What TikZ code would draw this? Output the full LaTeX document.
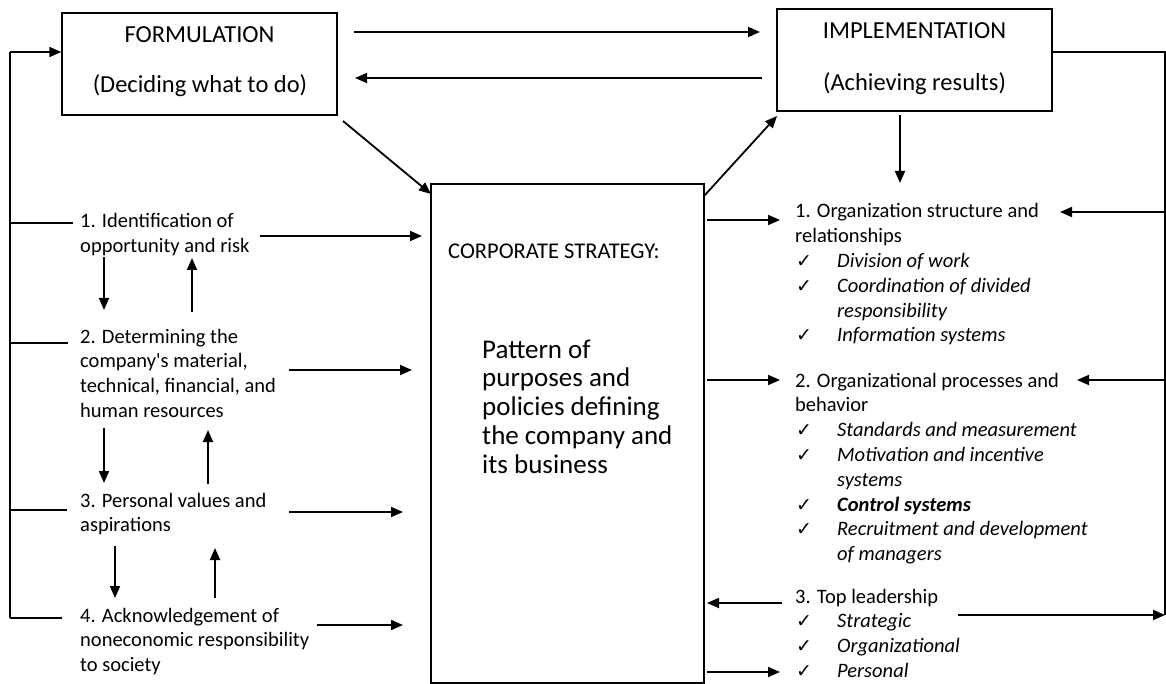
\documentclass[tikz,border=0pt]{standalone}
\usepackage{fontspec}
\setmainfont{Carlito}
\newfontfamily\plainc{Carlito}
\newfontfamily\djv{DejaVu Sans}
\usetikzlibrary{arrows.meta}
\newcommand{\chk}{\hspace*{1pt}{\djv\fontsize{19}{19}\selectfont ✓}}
\newcommand{\apos}{{\plainc'}}
\begin{document}
\begin{tikzpicture}[x=1pt,y=-1pt,
  boxn/.style={draw, line width=1.3pt, inner sep=0pt},
  arr/.style={line width=1.8pt, -{Triangle[length=12pt,width=10pt]}},
  ln/.style={line width=1.5pt},
  lbl/.style={inner sep=0pt, anchor=base west, font=\fontsize{20.5}{24.8}\selectfont},
  ttl/.style={inner sep=0pt, anchor=base, font=\fontsize{24.5}{29}\selectfont}]
\useasboundingbox (0,0) rectangle (1166,684);

% boxes
\node[boxn, minimum width=275pt, minimum height=102pt] (form) at (199.5,64) {};
\node[boxn, minimum width=275pt, minimum height=102pt] (impl) at (914.5,60) {};
\node[boxn, minimum width=273pt, minimum height=499pt] (cs) at (567.5,433.5) {};

\node[ttl] (ft1) at (199.5,43) {FORMULATION};
\node[ttl] (ft2) at (200,93) {(Deciding what to do)};
\node[ttl] (it1) at (914.5,39) {IMPLEMENTATION};
\node[ttl] (it2) at (914.5,91) {(Achieving results)};

\node[inner sep=0pt, anchor=base west, font=\fontsize{22.5}{27}\selectfont] (cst) at (448,259) {CORPORATE STRATEGY:};
\node[inner sep=0pt, anchor=base west, font=\fontsize{27}{28.75}\selectfont] (pat) at (482,358)
  {\begin{tabular}[t]{@{}l@{}}Pattern of\\purposes and\\policies defining\\the company and\\its business\end{tabular}};

% left items
\node[lbl] (i1) at (80,228) {\begin{tabular}[t]{@{}l@{}}1. Identification of\\opportunity and risk\end{tabular}};
\node[lbl] (i2) at (80,343) {\begin{tabular}[t]{@{}l@{}}2. Determining the\\company\apos s material,\\technical, financial, and\\human resources\end{tabular}};
\node[lbl] (i3) at (80,507) {\begin{tabular}[t]{@{}l@{}}3. Personal values and\\aspirations\end{tabular}};
\node[lbl] (i4) at (80,622) {\begin{tabular}[t]{@{}l@{}}4. Acknowledgement of\\noneconomic responsibility\\to society\end{tabular}};

% right items
\node[lbl] (r1) at (795,218) {\begin{tabular}[t]{@{}p{42pt}@{}l@{}}
  \multicolumn{2}{@{}l@{}}{1. Organization structure and}\\
  \multicolumn{2}{@{}l@{}}{relationships}\\
  \chk & \textit{Division of work}\\
  \chk & \textit{Coordination of divided}\\
       & \textit{responsibility}\\
  \chk & \textit{Information systems}\end{tabular}};
\node[lbl] (r2) at (795,387) {\begin{tabular}[t]{@{}p{42pt}@{}l@{}}
  \multicolumn{2}{@{}l@{}}{2. Organizational processes and}\\
  \multicolumn{2}{@{}l@{}}{behavior}\\
  \chk & \textit{Standards and measurement}\\
  \chk & \textit{Motivation and incentive}\\
       & \textit{systems}\\
  \chk & \textbf{\textit{Control systems}}\\
  \chk & \textit{Recruitment and development}\\
       & \textit{of managers}\end{tabular}};
\node[lbl] (r3) at (795,603) {\begin{tabular}[t]{@{}p{42pt}@{}l@{}}
  \multicolumn{2}{@{}l@{}}{3. Top leadership}\\
  \chk & \textit{Strategic}\\
  \chk & \textit{Organizational}\\
  \chk & \textit{Personal}\end{tabular}};

% coordinates
\coordinate (L0) at (10,52);
\coordinate (L1) at (10,223);
\coordinate (L2) at (10,343);
\coordinate (L3) at (10,510);
\coordinate (L4) at (10,618);
\coordinate (T1) at (73,223);
\coordinate (T2) at (68,343);
\coordinate (T3) at (67,510);
\coordinate (T4) at (62,618);
\coordinate (R0) at (1165,52);
\coordinate (R1) at (1165,212);
\coordinate (R2) at (1165,380);
\coordinate (R3) at (1165,615);

% left frame
\draw[ln] (L4) -- (L0);
\draw[arr, line width=1.5pt] (L0) -- (form.west |- L0);
\draw[ln] (L1) -- (T1);
\draw[ln] (L2) -- (T2);
\draw[ln] (L3) -- (T3);
\draw[ln] (L4) -- (T4);

% top arrows
\coordinate (fa) at (354,32); \coordinate (ia) at (760,32);
\coordinate (ib) at (762,78); \coordinate (fb) at (355,78);
\draw[arr] (fa) -- (ia);
\draw[arr] (ib) -- (fb);

% diagonals
\coordinate (fd) at (343,121); \coordinate (cd) at (431,194);
\draw[arr] (fd) -- (cd);
\coordinate (cu) at (704,196); \coordinate (iu) at (777,116);
\draw[arr] (cu) -- (iu);

% implementation down & right frame
\coordinate (id0) at (900,115); \coordinate (id1) at (900,183);
\draw[arr] (id0) -- (id1);
\draw[ln] (impl.east |- R0) -- (R0) -- (R3);

% left arrows to corporate
\coordinate (a1s) at (260,236); \coordinate (a1e) at (422,236);
\coordinate (a2s) at (289,370); \coordinate (a2e) at (412,370);
\coordinate (a3s) at (289,512); \coordinate (a3e) at (403,512);
\coordinate (a4s) at (317,625); \coordinate (a4e) at (403,625);
\draw[arr] (a1s) -- (a1e);
\draw[arr] (a2s) -- (a2e);
\draw[arr] (a3s) -- (a3e);
\draw[arr] (a4s) -- (a4e);

% vertical arrows between left items
\coordinate (d1s) at (104,257); \coordinate (d1e) at (104,310);
\coordinate (u1s) at (192,312); \coordinate (u1e) at (192,258);
\coordinate (d2s) at (104,428); \coordinate (d2e) at (104,483);
\coordinate (u2s) at (208,484); \coordinate (u2e) at (208,430);
\coordinate (d3s) at (115,546); \coordinate (d3e) at (115,598);
\coordinate (u3s) at (215,598); \coordinate (u3e) at (215,548);
\draw[arr] (d1s) -- (d1e);
\draw[arr] (u1s) -- (u1e);
\draw[arr] (d2s) -- (d2e);
\draw[arr] (u2s) -- (u2e);
\draw[arr] (d3s) -- (d3e);
\draw[arr] (u3s) -- (u3e);

% right arrows
\coordinate (c1) at (707,220); \coordinate (c1e) at (780,220);
\coordinate (c2) at (707,380); \coordinate (c2e) at (780,380);
\coordinate (c3) at (707,603); \coordinate (c3s) at (782,603);
\coordinate (c4) at (707,672); \coordinate (c4e) at (780,672);
\coordinate (r1e) at (1060,212);
\coordinate (r2e) at (1077,380);
\coordinate (r3s) at (958,615);
\draw[arr] (c1) -- (c1e);
\draw[arr] (c2) -- (c2e);
\draw[arr] (c3s) -- (c3);
\draw[arr] (c4) -- (c4e);
\draw[arr] (R1) -- (r1e);
\draw[arr] (R2) -- (r2e);
\draw[arr] (r3s) -- (R3);
\end{tikzpicture}
\end{document}
